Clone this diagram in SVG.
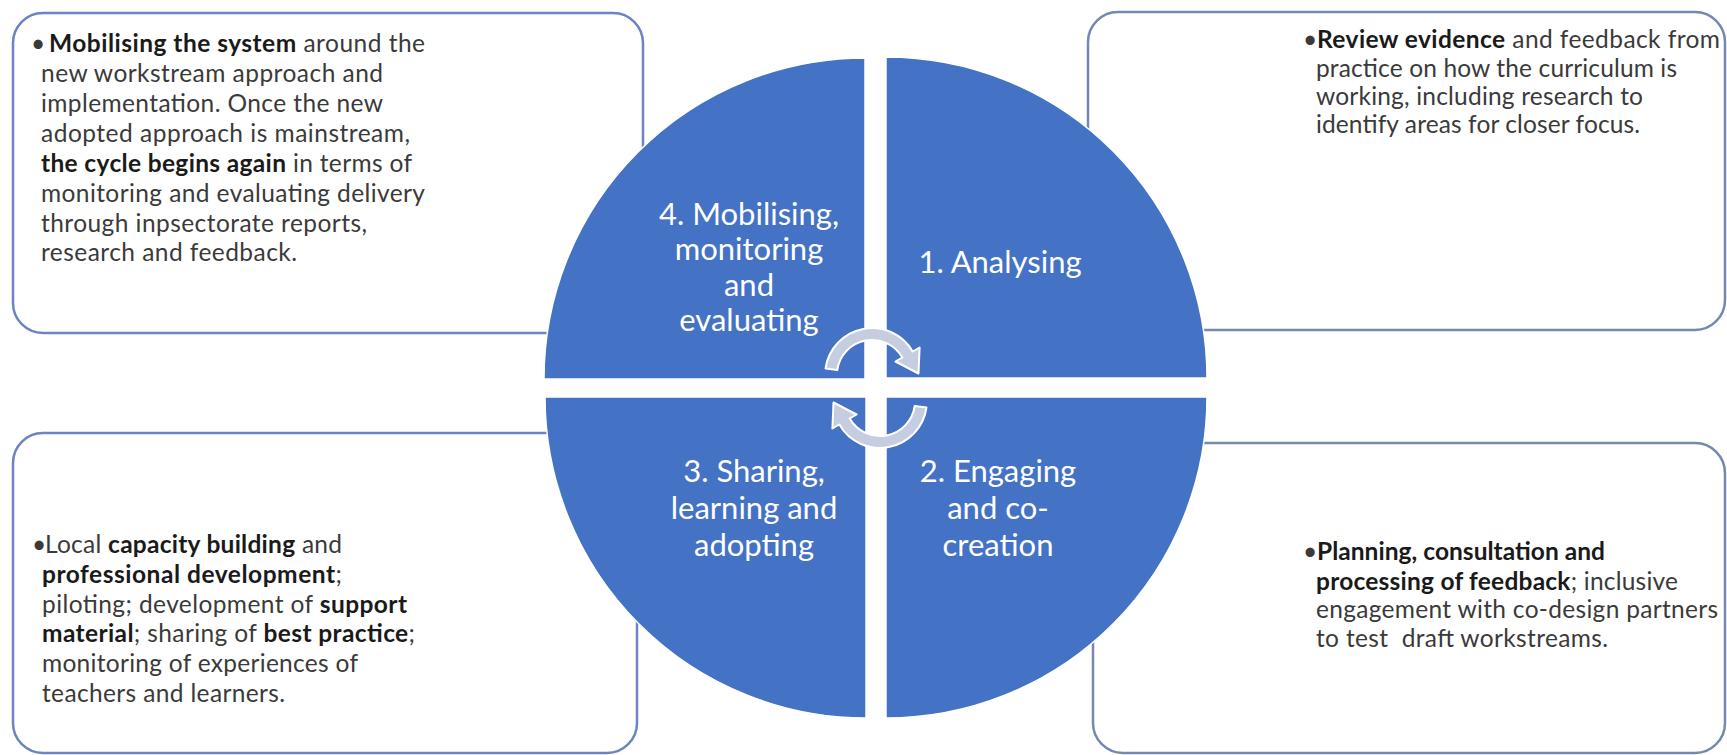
<svg xmlns="http://www.w3.org/2000/svg" width="1727" height="755" viewBox="0 0 1727 755">
<style>
.box{fill:#ffffff;stroke:#6a85bf;stroke-width:2.5}
.boxr{fill:#ffffff;stroke:#7488b0;stroke-width:2.5}
.quad{fill:#4472c4;stroke:#ffffff;stroke-width:1.5}
.t{font-family:Lato,"Liberation Sans",sans-serif;font-size:24.5px;fill:#3a3a3a}
.b{font-weight:bold;fill:#1a1a1a}
.lbl{font-family:Lato,"Liberation Sans",sans-serif;font-size:31px;fill:#ffffff;text-anchor:middle}
.arr{fill:#c7cde0;stroke:#ffffff;stroke-width:2;stroke-linejoin:round}
</style>
<rect width="1727" height="755" fill="#ffffff"/>

<g id="box-mobilising">
<rect class="box" x="13" y="13" width="630" height="320" rx="30"/>
<text class="t" x="31" y="52">•</text>
<text class="t" x="49" y="52" textLength="376"><tspan class="b">Mobilising the system</tspan> around the</text>
<text class="t" x="41" y="82" textLength="342">new workstream approach and</text>
<text class="t" x="41" y="112" textLength="342">implementation. Once the new</text>
<text class="t" x="41" y="142" textLength="369">adopted approach is mainstream,</text>
<text class="t" x="41" y="172" textLength="371"><tspan class="b">the cycle begins again</tspan> in terms of</text>
<text class="t" x="41" y="202" textLength="384">monitoring and evaluating delivery</text>
<text class="t" x="41" y="232" textLength="326">through inpsectorate reports,</text>
<text class="t" x="41" y="261" textLength="256">research and feedback.</text>
</g>

<g id="box-review">
<rect class="boxr" x="1088" y="12" width="637" height="318" rx="30"/>
<text class="t" x="1303" y="48">•</text>
<text class="t" x="1317" y="48" textLength="403"><tspan class="b">Review evidence</tspan> and feedback from</text>
<text class="t" x="1316" y="77" textLength="361">practice on how the curriculum is</text>
<text class="t" x="1316" y="105" textLength="327">working, including research to</text>
<text class="t" x="1316" y="133" textLength="324">identify areas for closer focus.</text>
</g>

<g id="box-capacity">
<rect class="box" x="13" y="433" width="624" height="320" rx="30"/>
<text class="t" x="32" y="553">•</text>
<text class="t" x="45" y="553" textLength="297">Local <tspan class="b">capacity building</tspan> and</text>
<text class="t" x="42" y="583" textLength="300"><tspan class="b">professional development</tspan>;</text>
<text class="t" x="42" y="613" textLength="365">piloting; development of <tspan class="b">support</tspan></text>
<text class="t" x="42" y="642" textLength="373"><tspan class="b">material</tspan>; sharing of <tspan class="b">best practice</tspan>;</text>
<text class="t" x="42" y="672" textLength="316">monitoring of experiences of</text>
<text class="t" x="42" y="702" textLength="243">teachers and learners.</text>
</g>

<g id="box-planning">
<rect class="boxr" x="1093" y="443" width="632" height="310" rx="30"/>
<text class="t" x="1303" y="560">•</text>
<text class="t" x="1317" y="560" textLength="288"><tspan class="b">Planning, consultation and</tspan></text>
<text class="t" x="1316" y="590" textLength="362"><tspan class="b">processing of feedback</tspan>; inclusive</text>
<text class="t" x="1316" y="618" textLength="402">engagement with co-design partners</text>
<text class="t" x="1316" y="647" textLength="292" style="white-space:pre">to test  draft workstreams.</text>
</g>

<g id="q4-mobilising">
<path class="quad" d="M865,379 L544,379 A321,321 0 0 1 865,58 Z"/>
<text class="lbl" x="749" y="225">4. Mobilising,</text>
<text class="lbl" x="749" y="260">monitoring</text>
<text class="lbl" x="749" y="296">and</text>
<text class="lbl" x="749" y="331">evaluating</text>
</g>

<g id="q1-analysing">
<path class="quad" d="M886,378 L886,57 A321,321 0 0 1 1207,378 Z"/>
<text class="lbl" x="1000" y="273">1. Analysing</text>
</g>

<g id="q2-engaging">
<path class="quad" d="M886,397 L1207,397 A321,321 0 0 1 886,718 Z"/>
<text class="lbl" x="998" y="482">2. Engaging</text>
<text class="lbl" x="998" y="519">and co-</text>
<text class="lbl" x="998" y="556">creation</text>
</g>

<g id="q3-sharing">
<path class="quad" d="M866,397 L866,718 A321,321 0 0 1 545,397 Z"/>
<text class="lbl" x="754" y="482">3. Sharing,</text>
<text class="lbl" x="754" y="519">learning and</text>
<text class="lbl" x="754" y="556">adopting</text>
</g>

<g id="connectors">
<path id="arrow-top" class="arr" d="M837.3,370.1 L825.5,368.5 A47,47 0 0 1 912.7,351.5 L919.6,347.5 L918.5,373.5 L895.4,361.5 L902.3,357.5 A35,35 0 0 0 837.3,370.1 Z"/>
<path id="arrow-bottom" class="arr" transform="rotate(180 876 388)" d="M837.3,370.1 L825.5,368.5 A47,47 0 0 1 912.7,351.5 L919.6,347.5 L918.5,373.5 L895.4,361.5 L902.3,357.5 A35,35 0 0 0 837.3,370.1 Z"/>
</g>
</svg>
